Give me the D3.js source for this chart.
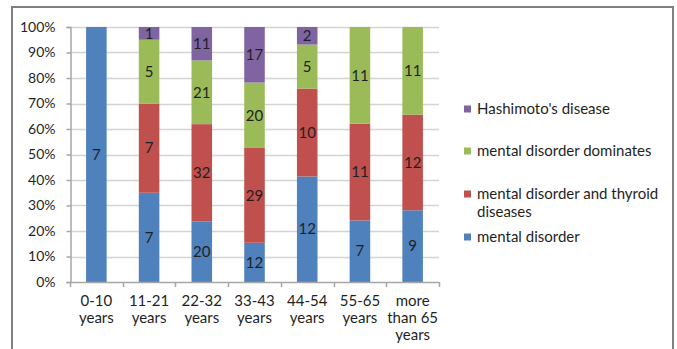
<!DOCTYPE html>
<html>
<head>
<meta charset="utf-8">
<script src="https://cdn.jsdelivr.net/npm/d3@7"></script>
<style>
  html, body { margin: 0; padding: 0; background: #fff; }
  svg { display: block; }
  text { font-family: Lato, "Open Sans", sans-serif; fill: #1f1f1f; }
</style>
</head>
<body>
<svg id="chart" width="677" height="349"></svg>
<script>
// Age groups (multi-line axis labels)
const categories = [
  ["0-10", "years"],
  ["11-21", "years"],
  ["22-32", "years"],
  ["33-43", "years"],
  ["44-54", "years"],
  ["55-65", "years"],
  ["more", "than 65", "years"]
];

// Patient counts per group, stacked bottom to top
const mentalDisorder       = [7, 7, 20, 12, 12, 7, 9];
const mentalAndThyroid     = [0, 7, 32, 29, 10, 11, 12];
const mentalDominates      = [0, 5, 21, 20, 5, 11, 11];
const hashimoto            = [0, 1, 11, 17, 2, 0, 0];

const seriesNames = [
  "mental disorder",
  "mental disorder and thyroid diseases",
  "mental disorder dominates",
  "Hashimoto's disease"
];
const seriesColors = ["#4F81BD", "#C0504D", "#9BBB59", "#8064A2"];
const yTicks = [0, 0.1, 0.2, 0.3, 0.4, 0.5, 0.6, 0.7, 0.8, 0.9, 1.0];

const svg = d3.select("#chart");

// Outer frame
svg.append("path")
  .attr("d", "M12,360 L12,7 L673,7 L673,360")
  .attr("fill", "none")
  .attr("stroke", "#7f7f7f")
  .attr("stroke-width", 2);

const plot = { left: 70, right: 439, top: 27, bottom: 282 };

const keys = ["md", "mt", "dom", "hash"];
const rows = categories.map((c, i) => ({
  idx: i,
  md: mentalDisorder[i],
  mt: mentalAndThyroid[i],
  dom: mentalDominates[i],
  hash: hashimoto[i]
}));
rows.forEach(r => {
  const total = keys.reduce((s, k) => s + r[k], 0);
  keys.forEach(k => r[k + "_p"] = r[k] / total);
});

const stack = d3.stack().keys(keys.map(k => k + "_p"));
const stacked = stack(rows);

const x = d3.scaleBand()
  .domain(d3.range(categories.length))
  .range([plot.left, plot.right])
  .paddingInner(0.61)
  .paddingOuter(0.305);

const y = d3.scaleLinear().domain([0, 1]).range([plot.bottom, plot.top]);

// Gridlines
svg.append("g")
  .selectAll("line")
  .data(yTicks.slice(1))
  .join("line")
  .attr("x1", plot.left)
  .attr("x2", plot.right)
  .attr("y1", d => Math.round(y(d)) + 0.5)
  .attr("y2", d => Math.round(y(d)) + 0.5)
  .attr("stroke", "#d4d4d4")
  .attr("stroke-width", 1.5);

// Y axis
const yAxis = d3.axisLeft(y)
  .tickValues(yTicks)
  .tickFormat(d3.format(".0%"))
  .tickSize(4)
  .tickPadding(11);
const gy = svg.append("g")
  .attr("transform", `translate(${plot.left + 0.5},0)`)
  .call(yAxis);
gy.select(".domain").attr("stroke", "#a6a6a6").attr("stroke-width", 1.5);
gy.selectAll(".tick line").attr("stroke", "#a6a6a6").attr("stroke-width", 1.5);
gy.selectAll(".tick text")
  .style("font-size", "14px")
  .style("font-family", "Lato, sans-serif")
  .attr("fill", "#3a3a3a");

// Bars
const layers = svg.append("g")
  .selectAll("g")
  .data(stacked)
  .join("g")
  .attr("fill", (d, i) => seriesColors[i]);

layers.selectAll("rect")
  .data(d => d)
  .join("rect")
  .attr("x", d => x(d.data.idx))
  .attr("width", x.bandwidth())
  .attr("y", d => y(d[1]))
  .attr("height", d => y(d[0]) - y(d[1]));

// Value labels centred in each segment
stacked.forEach((layer, li) => {
  const key = keys[li];
  svg.append("g")
    .selectAll("text")
    .data(layer.filter(d => d.data[key] > 0))
    .join("text")
    .attr("x", d => x(d.data.idx) + x.bandwidth() / 2)
    .attr("y", d => (y(d[0]) + y(d[1])) / 2)
    .attr("dy", "0.35em")
    .attr("text-anchor", "middle")
    .style("font-size", "15px")
    .text(d => d.data[key]);
});

// X axis: baseline and category boundary ticks
const boundaries = d3.range(categories.length + 1).map(i =>
  i < categories.length ? x(i) - x.step() * x.paddingInner() / 2 : plot.right);
svg.append("line")
  .attr("x1", plot.left).attr("x2", plot.right)
  .attr("y1", plot.bottom + 0.5).attr("y2", plot.bottom + 0.5)
  .attr("stroke", "#a6a6a6").attr("stroke-width", 1.5);
svg.append("g")
  .selectAll("line")
  .data(boundaries)
  .join("line")
  .attr("x1", d => Math.round(d) + 0.5)
  .attr("x2", d => Math.round(d) + 0.5)
  .attr("y1", plot.bottom)
  .attr("y2", plot.bottom + 5)
  .attr("stroke", "#a6a6a6")
  .attr("stroke-width", 1.5);

const xl = svg.append("g")
  .selectAll("text")
  .data(categories)
  .join("text")
  .attr("x", (d, i) => x(i) + x.bandwidth() / 2)
  .attr("y", 306)
  .attr("text-anchor", "middle")
  .style("font-size", "15px")
  .attr("fill", "#3a3a3a");
xl.selectAll("tspan")
  .data(d => d)
  .join("tspan")
  .attr("x", function () { return d3.select(this.parentNode).attr("x"); })
  .attr("dy", (d, i) => i === 0 ? 0 : 17)
  .text(d => d);

// Legend (top entry is the top of the stack)
const legendItems = [
  { name: [seriesNames[3]], color: seriesColors[3], y: 109 },
  { name: [seriesNames[2]], color: seriesColors[2], y: 151 },
  { name: ["mental disorder and thyroid", "diseases"], color: seriesColors[1], y: 194 },
  { name: [seriesNames[0]], color: seriesColors[0], y: 237 }
];
const lg = svg.append("g")
  .selectAll("g")
  .data(legendItems)
  .join("g")
  .attr("transform", d => `translate(464,${d.y})`);
lg.append("rect")
  .attr("x", 0).attr("y", -3.5)
  .attr("width", 7).attr("height", 7)
  .attr("fill", d => d.color);
lg.append("text")
  .attr("x", 13)
  .attr("y", 0)
  .style("font-size", "15px")
  .attr("fill", "#3a3a3a")
  .selectAll("tspan")
  .data(d => d.name)
  .join("tspan")
  .attr("x", 13)
  .attr("dy", (d, i) => i === 0 ? "0.35em" : 18)
  .text(d => d);
</script>
</body>
</html>
